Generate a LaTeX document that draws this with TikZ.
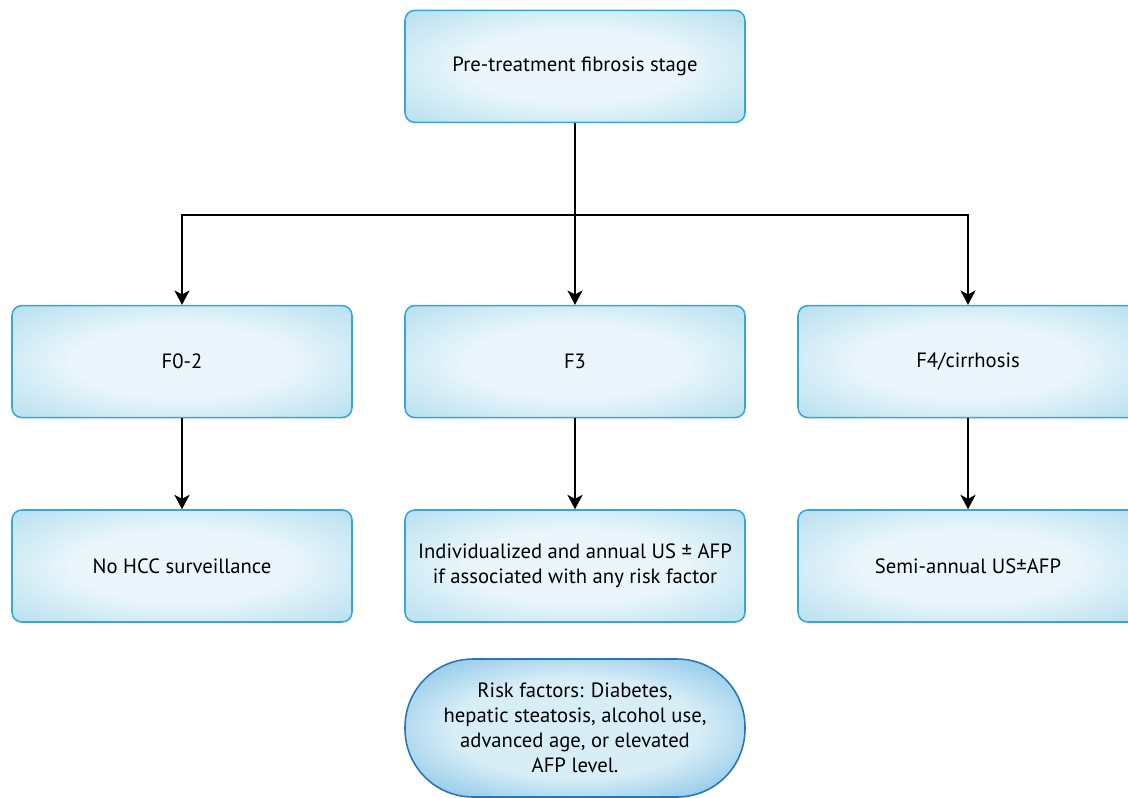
\documentclass[tikz,border=0pt]{standalone}
\usepackage{fontspec}
\setmainfont{PT Sans}
\usepackage{tikz}
\usetikzlibrary{shapes}
\usetikzlibrary{arrows.meta}
\usetikzlibrary{positioning}
\definecolor{boxedge}{RGB}{56,166,216}
\definecolor{boxout}{RGB}{160,214,233}
\definecolor{boxin}{RGB}{234,246,251}
\definecolor{pillout}{RGB}{70,160,216}
\definecolor{pillin}{RGB}{215,238,247}
\definecolor{pilledge}{RGB}{38,116,186}
\pgfdeclareradialshading{boxshade}{\pgfpoint{0bp}{0bp}}{color(0bp)=(boxin); color(16bp)=(boxin); color(44bp)=(boxout); color(72bp)=(boxout)}
\pgfdeclareradialshading{pillshade}{\pgfpoint{0bp}{0bp}}{color(0bp)=(pillin); color(18bp)=(pillin); color(46bp)=(pillout); color(72bp)=(pillout)}
\tikzstyle{stage}=[
        draw=boxedge,
        line width=1.1pt,
        rectangle,
        rounded corners=7pt,
        shading=boxshade,
        minimum width=8.5cm,
        minimum height=2.8cm,
        align=center,
        font=\fontsize{14.7}{18}\selectfont
]
\tikzstyle{risk}=[
        draw=pilledge,
        line width=1.1pt,
        rectangle,
        rounded corners=1.7cm,
        shading=pillshade,
        minimum width=8.5cm,
        minimum height=3.45cm,
        align=center,
        font=\fontsize{14.7}{17.8}\selectfont
]
\tikzstyle{suite}=[-{Stealth[length=0.36cm,width=0.38cm,inset=0.1cm]},line width=1.2pt]

\begin{document}
\begin{tikzpicture}
\clip (0,0) rectangle (28.2,-19.95);
\node[stage] (fibrose) at (14.375,-1.66) {Pre-treatment fibrosis stage};
\coordinate (bus) at (14.375,-5.375);
\node[stage] (f02) at (4.55,-9.04) {F0-2};
\node[stage] (f3) at (14.375,-9.04) {F3};
\node[stage] (f4) at (24.2,-9.04) {F4/cirrhosis};
\node[stage] (nohcc) at (4.55,-14.15) {No HCC surveillance};
\node[stage] (annual) at (14.375,-14.15) {Individualized and annual US ± AFP\\if associated with any risk factor};
\node[stage] (semi) at (24.2,-14.15) {Semi-annual US±AFP};
\node[risk] (facteurs) at (14.375,-18.2) {Risk factors: Diabetes,\\hepatic steatosis, alcohol use,\\advanced age, or elevated\\AFP level.};
%Placementdesflèches
\draw[suite] (fibrose) -- (f3);
\draw[suite] (bus) -| (f02);
\draw[suite] (bus) -| (f4);
\draw[suite] (f02) -- (nohcc);
\draw[suite] (f3) -- (annual);
\draw[suite] (f4) -- (semi);
\end{tikzpicture}
\end{document}
